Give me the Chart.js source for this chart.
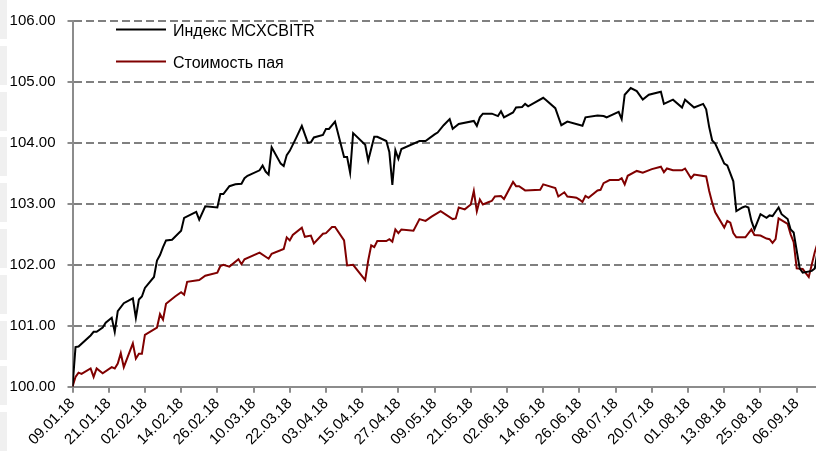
<!DOCTYPE html>
<html>
<head>
<meta charset="utf-8">
<script src="https://cdn.jsdelivr.net/npm/chart.js@4/dist/chart.umd.min.js"></script>
<style>
  html, body { margin: 0; padding: 0; background: #fff; }
  #wrap { position: relative; width: 816px; height: 453px; overflow: hidden; }
  #strip {
    position: absolute; left: 0; top: 0; width: 7px; height: 453px;
    background: repeating-linear-gradient(to bottom, #f0f0f0 0, #f0f0f0 39px, #fff 39px, #fff 45.8px);
  }
  canvas { position: absolute; left: 0; top: 0; }
</style>
</head>
<body>
<div id="wrap">
  <div id="strip"></div>
  <canvas id="chart" width="816" height="453"></canvas>
</div>
<script>
// x = days since 09.01.18
const tickLabels = ["09.01.18", "21.01.18", "02.02.18", "14.02.18", "26.02.18", "10.03.18", "22.03.18",
  "03.04.18", "15.04.18", "27.04.18", "09.05.18", "21.05.18", "02.06.18", "14.06.18", "26.06.18",
  "08.07.18", "20.07.18", "01.08.18", "13.08.18", "25.08.18", "06.09.18"];

const indexDays = [0, 1, 2, 6, 7, 8, 10, 11, 13, 14, 15, 17, 20, 21, 22, 23, 24, 27, 28, 29, 30, 31, 33, 36, 37,
  41, 42, 44, 48, 49, 50, 52, 54, 56, 57, 58, 62, 63, 64, 65, 66, 69, 70, 71, 72, 74, 76, 78, 79, 80,
  83, 84, 85, 87, 90, 91, 92, 93, 97, 98, 100, 101, 104, 105, 106, 107, 108, 109, 115, 117, 120, 121,
  123, 125, 126, 128, 133, 134, 135, 136, 139, 141, 142, 143, 146, 147, 149, 150, 151, 156, 157, 160,
  162, 164, 169, 170, 174, 176, 177, 181, 182, 183, 185, 187, 189, 191, 195, 196, 199, 202, 203, 206,
  209, 210, 211, 212, 213, 216, 217, 219, 220, 222, 223, 224, 225, 226, 228, 230, 231, 232, 233, 234,
  235, 237, 238, 239, 241, 242, 245, 246, 247];
const indexValues = [100.00, 100.65, 100.66, 100.84, 100.90, 100.90, 100.97, 101.05, 101.13, 100.90, 101.24,
  101.37, 101.45, 101.13, 101.43, 101.48, 101.62, 101.80, 102.07, 102.16, 102.29, 102.40, 102.41, 102.56,
  102.77, 102.87, 102.74, 102.96, 102.94, 103.16, 103.16, 103.29, 103.32, 103.33, 103.42, 103.46, 103.55,
  103.63, 103.53, 103.48, 103.93, 103.66, 103.62, 103.80, 103.87, 104.07, 104.28, 104.00, 104.01, 104.09,
  104.13, 104.23, 104.23, 104.35, 103.77, 103.77, 103.51, 104.16, 103.97, 103.71, 104.10, 104.10, 104.03,
  103.85, 103.31, 103.88, 103.74, 103.90, 104.03, 104.03, 104.14, 104.17, 104.29, 104.39, 104.23, 104.31,
  104.36, 104.28, 104.42, 104.48, 104.48, 104.44, 104.52, 104.42, 104.50, 104.58, 104.59, 104.64, 104.60,
  104.74, 104.70, 104.57, 104.29, 104.35, 104.28, 104.42, 104.45, 104.44, 104.42, 104.51, 104.39, 104.79,
  104.90, 104.85, 104.71, 104.79, 104.84, 104.64, 104.71, 104.58, 104.71, 104.58, 104.64, 104.55, 104.26,
  104.04, 103.99, 103.66, 103.63, 103.37, 102.88, 102.94, 102.96, 102.94, 102.72, 102.58, 102.83, 102.77,
  102.81, 102.80, 102.87, 102.94, 102.83, 102.75, 102.58, 102.53, 101.94, 101.87, 101.90, 101.94, 102.25];

const fundDays = [0, 1, 2, 3, 6, 7, 8, 10, 13, 14, 15, 16, 17, 20, 21, 22, 23, 24, 28, 29, 30, 31, 34, 36, 37,
  38, 42, 44, 48, 49, 50, 52, 55, 56, 57, 62, 65, 66, 70, 71, 72, 73, 76, 77, 79, 80, 83, 84, 86, 87, 90,
  91, 93, 97, 98, 99, 100, 101, 104, 105, 106, 107, 108, 109, 113, 115, 117, 119, 122, 126, 127, 128, 130,
  132, 133, 134, 135, 136, 138, 139, 140, 142, 143, 146, 147, 148, 150, 155, 156, 160, 161, 163, 164, 166,
  167, 168, 169, 170, 171, 174, 175, 176, 178, 181, 182, 183, 184, 187, 189, 192, 195, 196, 197, 199, 202,
  203, 205, 206, 210, 211, 212, 213, 216, 217, 218, 219, 220, 223, 225, 226, 228, 230, 231, 232, 233, 234,
  237, 238, 239, 240, 242, 244, 246, 247];
const fundValues = [100.00, 100.16, 100.23, 100.21, 100.30, 100.16, 100.30, 100.22, 100.32, 100.30, 100.38,
  100.55, 100.32, 100.71, 100.46, 100.54, 100.54, 100.85, 100.97, 101.19, 101.10, 101.36, 101.48, 101.55,
  101.51, 101.72, 101.75, 101.82, 101.87, 101.98, 102.00, 101.97, 102.09, 102.01, 102.09, 102.20, 102.10,
  102.18, 102.26, 102.45, 102.40, 102.49, 102.61, 102.46, 102.48, 102.35, 102.51, 102.52, 102.62, 102.62,
  102.40, 101.99, 102.00, 101.75, 102.07, 102.32, 102.29, 102.39, 102.39, 102.42, 102.38, 102.58, 102.52,
  102.58, 102.56, 102.75, 102.72, 102.79, 102.88, 102.75, 102.76, 102.94, 102.91, 102.99, 103.21, 102.88,
  103.07, 102.99, 103.03, 103.05, 103.12, 103.13, 103.08, 103.36, 103.29, 103.29, 103.22, 103.23, 103.32,
  103.26, 103.12, 103.19, 103.12, 103.11, 103.10, 103.07, 103.03, 103.13, 103.10, 103.22, 103.23, 103.34,
  103.39, 103.39, 103.42, 103.32, 103.46, 103.54, 103.51, 103.57, 103.61, 103.52, 103.58, 103.55, 103.55,
  103.58, 103.42, 103.48, 103.45, 103.21, 103.02, 102.86, 102.61, 102.72, 102.69, 102.52, 102.45, 102.45,
  102.58, 102.49, 102.48, 102.43, 102.42, 102.36, 102.42, 102.76, 102.67, 102.50, 102.37, 101.94, 101.93,
  101.80, 102.21, 102.37];

const FONT = '"Liberation Sans", Arial, sans-serif';
Chart.defaults.font.family = FONT;
Chart.defaults.font.size = 15;
Chart.defaults.color = "#000";

const toPoints = (days, values) => days.map((d, i) => ({ x: d, y: values[i] }));

// legend sits inside the plot, top left
const insideLegend = {
  id: "insideLegend",
  afterDatasetsDraw(chart) {
    const ctx = chart.ctx;
    ctx.save();
    ctx.font = "16px " + FONT;
    ctx.textBaseline = "middle";
    ctx.fillStyle = "#000";
    chart.data.datasets.forEach((ds, i) => {
      const y = 29.5 + i * 32;
      ctx.strokeStyle = ds.borderColor;
      ctx.lineWidth = 2;
      ctx.beginPath();
      ctx.moveTo(116, y);
      ctx.lineTo(166, y);
      ctx.stroke();
      ctx.fillText(ds.label, 173, y + 2);
    });
    ctx.restore();
  }
};

new Chart(document.getElementById("chart"), {
  type: "line",
  data: {
    datasets: [
      { label: "Индекс MCXCBITR", data: toPoints(indexDays, indexValues), borderColor: "#000000" },
      { label: "Стоимость пая", data: toPoints(fundDays, fundValues), borderColor: "#800000" }
    ]
  },
  options: {
    responsive: false,
    animation: false,
    layout: { padding: { top: 15, left: 0, right: 0, bottom: 0 } },
    elements: {
      point: { radius: 0 },
      line: { tension: 0, borderWidth: 2 }
    },
    plugins: { legend: { display: false }, tooltip: { enabled: false } },
    scales: {
      x: {
        type: "linear",
        min: 0,
        max: 246.4,
        afterBuildTicks: (s) => { s.ticks = tickLabels.map((_, i) => ({ value: i * 12 })); },
        afterFit: (s) => { s.height = 66.3; },
        grid: { drawOnChartArea: false, drawTicks: true, tickLength: 6, color: "#8c8c8c", lineWidth: 2 },
        border: { color: "#8c8c8c", width: 2 },
        ticks: {
          autoSkip: false,
          minRotation: 45,
          maxRotation: 45,
          padding: 2,
          callback: (v) => tickLabels[Math.round(v / 12)] ?? ""
        }
      },
      y: {
        min: 100,
        max: 106,
        afterFit: (s) => { s.width = 72.5; },
        grid: { color: "#808080", lineWidth: 2, tickLength: 5, tickColor: "#8c8c8c" },
        border: { color: "#8c8c8c", width: 2, dash: [8, 4] },
        ticks: { stepSize: 1, padding: 12, callback: (v) => v.toFixed(2) }
      }
    }
  },
  plugins: [insideLegend]
});
</script>
</body>
</html>
